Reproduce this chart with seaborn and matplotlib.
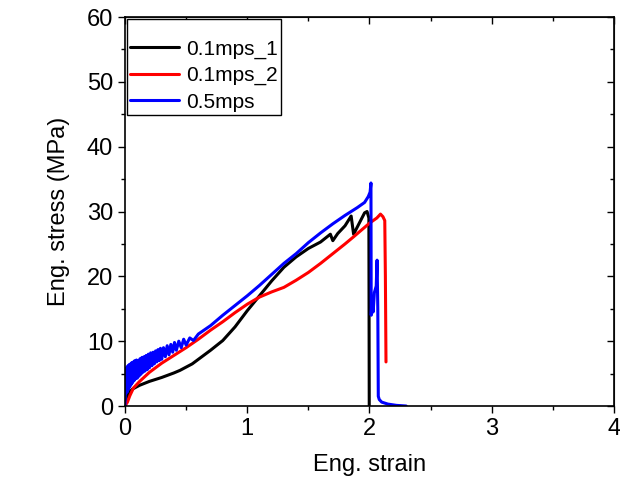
import seaborn as sns
import matplotlib.pyplot as plt
from matplotlib.ticker import MultipleLocator

# 0.1mps_1 (black)
strain_1 = [0, 0.01, 0.03, 0.06, 0.12, 0.2, 0.3, 0.4, 0.45, 0.5, 0.55, 0.6, 0.7, 0.8, 0.9,
            1.0, 1.1, 1.2, 1.3, 1.4, 1.5, 1.6, 1.68, 1.70, 1.74, 1.80, 1.85,
            1.87, 1.90, 1.96, 1.98, 1.995, 1.998]
stress_1 = [0, 1.2, 2.0, 2.6, 3.2, 3.8, 4.4, 5.1, 5.5, 6.0, 6.5, 7.2, 8.6, 10.1, 12.2,
            14.7, 17.0, 19.3, 21.4, 23.0, 24.3, 25.3, 26.5, 25.5, 26.6, 27.8, 29.3,
            26.5, 27.6, 29.8, 30.0, 29.0, 0]

# 0.1mps_2 (red)
strain_2 = [0, 0.02, 0.04, 0.07, 0.12, 0.2, 0.3, 0.4, 0.5, 0.6, 0.7, 0.8, 0.9,
            1.0, 1.1, 1.2, 1.3, 1.4, 1.5, 1.6, 1.7, 1.8, 1.87, 2.0, 2.06, 2.09,
            2.11, 2.125, 2.13, 2.135]
stress_2 = [0, 0.6, 1.6, 2.8, 3.8, 5.2, 6.6, 7.8, 9.0, 10.3, 11.7, 13.0, 14.4,
            15.7, 16.8, 17.6, 18.3, 19.4, 20.6, 22.0, 23.5, 25.0, 26.1, 28.2, 29.0, 29.6,
            29.2, 28.6, 20.0, 6.8]

# 0.5mps (blue)
strain_3 = [0, 0.005, 0.01, 0.015, 0.02, 0.025, 0.03, 0.035, 0.04, 0.045, 0.05,
            0.056, 0.062, 0.068, 0.074, 0.08, 0.087, 0.094, 0.101, 0.108, 0.115,
            0.123, 0.131, 0.139, 0.147, 0.155, 0.164, 0.173, 0.182, 0.191, 0.2,
            0.21, 0.22, 0.23, 0.24, 0.25, 0.26, 0.27, 0.28, 0.29, 0.3, 0.315, 0.33,
            0.345, 0.36, 0.375, 0.39, 0.405, 0.42, 0.44, 0.46, 0.48, 0.5, 0.53,
            0.56, 0.6, 0.7, 0.8, 0.9, 1.0, 1.1, 1.2, 1.3, 1.4, 1.5, 1.6, 1.7, 1.8,
            1.9, 1.96, 1.99, 2.005, 2.012, 2.014, 2.02, 2.03, 2.04, 2.055, 2.062,
            2.068, 2.072, 2.08, 2.1, 2.15, 2.22, 2.3]
stress_3 = [0, 5.5, 2.0, 6.0, 2.2, 6.2, 2.6, 6.4, 3.0, 6.5, 3.3,
            6.7, 3.6, 6.8, 3.9, 7.0, 4.2, 7.1, 4.3, 7.0, 4.6,
            7.3, 4.9, 7.5, 5.2, 7.6, 5.4, 7.8, 5.6, 8.0, 5.9,
            8.2, 6.2, 8.3, 6.5, 8.5, 6.8, 8.7, 7.0, 8.9, 7.2, 9.0, 7.6,
            9.3, 7.9, 9.5, 8.3, 9.8, 8.6, 10.0, 9.0, 10.3, 9.4, 10.5,
            10.1, 11.1, 12.4, 14.0, 15.5, 17.0, 18.6, 20.3, 22.0, 23.5, 25.2, 26.7, 28.1, 29.4,
            30.6, 31.4, 32.3, 33.0, 34.4, 14.0, 16.5, 14.5, 17.5, 18.5, 22.5,
            15.0, 1.5, 1.0, 0.6, 0.3, 0.1, 0.0]

sns.set_style("ticks")
plt.rcParams["font.family"] = ["Liberation Sans", "DejaVu Sans"]
plt.rcParams["text.color"] = "black"
plt.rcParams["axes.labelcolor"] = "black"
plt.rcParams["xtick.color"] = "black"
plt.rcParams["ytick.color"] = "black"

fig = plt.figure(figsize=(6.2, 4.9), dpi=100)
ax = fig.add_axes([0.2016, 0.1714, 0.7887, 0.7939])

sns.lineplot(x=strain_1, y=stress_1, sort=False, estimator=None, color="black", lw=2.2, label="0.1mps_1", ax=ax)
sns.lineplot(x=strain_2, y=stress_2, sort=False, estimator=None, color="red", lw=2.2, label="0.1mps_2", ax=ax)
sns.lineplot(x=strain_3, y=stress_3, sort=False, estimator=None, color="blue", lw=2.2, label="0.5mps", ax=ax)

ax.set_xlim(0, 4)
ax.set_ylim(0, 60)
ax.xaxis.set_major_locator(MultipleLocator(1))
ax.xaxis.set_minor_locator(MultipleLocator(0.5))
ax.yaxis.set_major_locator(MultipleLocator(10))
ax.yaxis.set_minor_locator(MultipleLocator(5))
for s in ax.spines.values():
    s.set_visible(True)
    s.set_color("black")
    s.set_linewidth(1.2)

# outward ticks on left/bottom, inward on top/right
ax.tick_params(which="both", direction="out", top=False, right=False, labelsize=17, width=1.0)
ax.tick_params(which="major", length=5)
ax.tick_params(which="minor", length=3)
ax2 = ax.secondary_xaxis("top")
ax2.xaxis.set_major_locator(MultipleLocator(1))
ax2.xaxis.set_minor_locator(MultipleLocator(0.5))
ax2.tick_params(which="both", direction="in", labeltop=False, width=1.0)
ax2.tick_params(which="major", length=5)
ax2.tick_params(which="minor", length=3)
ax3 = ax.secondary_yaxis("right")
ax3.yaxis.set_major_locator(MultipleLocator(10))
ax3.yaxis.set_minor_locator(MultipleLocator(5))
ax3.tick_params(which="both", direction="in", labelright=False, width=1.0)
ax3.tick_params(which="major", length=5)
ax3.tick_params(which="minor", length=3)

ax.set_xlabel("Eng. strain", fontsize=17, labelpad=10)
ax.set_ylabel("Eng. stress (MPa)", fontsize=17, labelpad=12)

leg = ax.legend(loc="upper left", fontsize=15, frameon=True, fancybox=False,
                edgecolor="black", handlelength=2.35, handletextpad=0.35,
                borderaxespad=0.1, labelspacing=0.35, borderpad=0.15,
                title=" ", title_fontsize=8)
leg.get_frame().set_linewidth(1.0)
leg.get_frame().set_alpha(1)

fig.savefig("out.png", dpi=100)
